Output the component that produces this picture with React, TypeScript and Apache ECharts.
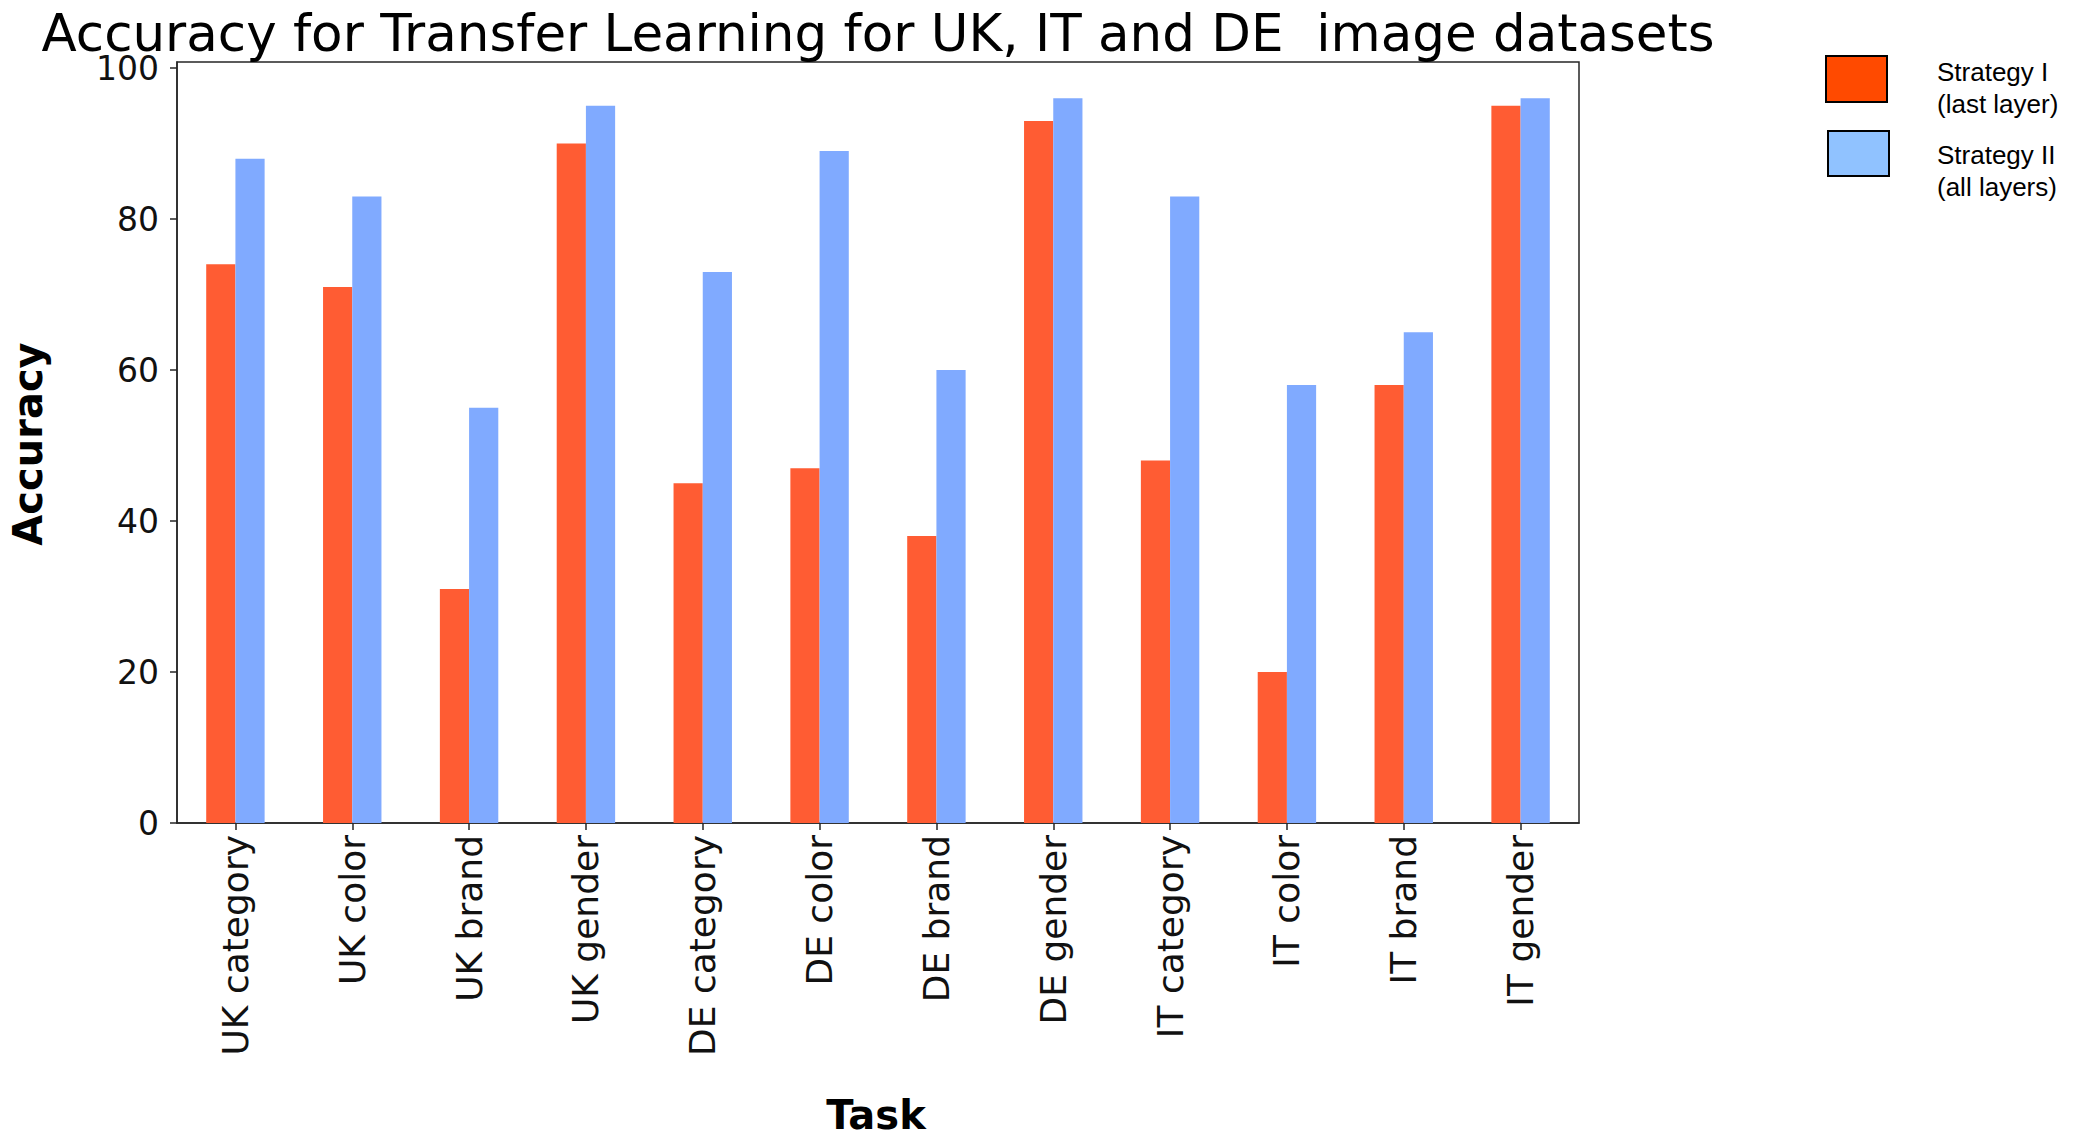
import React, { useEffect, useRef } from "react";
import * as echarts from "echarts";

const categories = [
  "UK category", "UK color", "UK brand", "UK gender",
  "DE category", "DE color", "DE brand", "DE gender",
  "IT category", "IT color", "IT brand", "IT gender",
];
const strategyI = [74, 71, 31, 90, 45, 47, 38, 93, 48, 20, 58, 95];
const strategyII = [88, 83, 55, 95, 73, 89, 60, 96, 83, 58, 65, 96];
const yTicks = [0, 20, 40, 60, 80, 100];
const seriesNames = ["Strategy I\n(last layer)", "Strategy II\n(all layers)"];

const W = 2083;
const H = 1136;

export default function App() {
  const ref = useRef<HTMLDivElement>(null);
  useEffect(() => {
    if (!ref.current) return;
    const chart = echarts.init(ref.current, null, { renderer: "svg" });
    const font = "DejaVu Sans";
    const gridLeft = 177;
    const gridRight = 1579;
    const center = (gridLeft + gridRight) / 2;
    chart.setOption({
      animation: false,
      backgroundColor: "#ffffff",
      grid: {
        left: gridLeft,
        right: W - gridRight,
        top: 62,
        bottom: H - 823,
        containLabel: false,
        outerBoundsMode: "none",
        show: true,
        borderColor: "#262626",
        borderWidth: 1.5,
        backgroundColor: "transparent",
      },
      xAxis: {
        type: "category",
        data: categories,
        boundaryGap: true,
        axisLine: { show: true, lineStyle: { color: "#262626", width: 1.5 } },
        axisTick: { show: true, alignWithLabel: true, length: 7, lineStyle: { color: "#262626", width: 1.5 } },
        axisLabel: {
          rotate: 90,
          interval: 0,
          margin: 12,
          fontFamily: font,
          fontSize: 36,
          color: "#111",
        },
        splitLine: { show: false },
      },
      yAxis: {
        type: "value",
        min: 0,
        max: 100.8,
        interval: 20,
        axisLine: { show: true, lineStyle: { color: "#262626", width: 1.5 } },
        axisTick: { show: true, length: 7, customValues: yTicks, lineStyle: { color: "#262626", width: 1.5 } },
        axisLabel: {
          customValues: yTicks,
          margin: 18,
          fontFamily: font,
          fontSize: 33,
          color: "#111",
          formatter: (v: number) => (v % 20 === 0 ? String(v) : ""),
        },
        splitLine: { show: false },
      },
      series: [
        {
          name: seriesNames[0],
          type: "bar",
          data: strategyI,
          barWidth: "25%",
          barGap: "0%",
          itemStyle: { color: "#FF5C33" },
        },
        {
          name: seriesNames[1],
          type: "bar",
          data: strategyII,
          barWidth: "25%",
          barGap: "0%",
          itemStyle: { color: "#80AAFF" },
        },
      ],
      graphic: [
        {
          type: "text",
          x: center,
          y: 33,
          style: {
            text: "Accuracy for Transfer Learning for UK, IT and DE  image datasets",
            font: `51.5px "${font}"`,
            fill: "#000",
            textAlign: "center",
            textVerticalAlign: "middle",
          },
        },
        {
          type: "text",
          x: 28,
          y: 444,
          rotation: Math.PI / 2,
          style: {
            text: "Accuracy",
            font: `bold 40px "${font}"`,
            fill: "#000",
            textAlign: "center",
            textVerticalAlign: "middle",
          },
        },
        {
          type: "text",
          x: 876,
          y: 1115,
          style: {
            text: "Task",
            font: `bold 40px "${font}"`,
            fill: "#000",
            textAlign: "center",
            textVerticalAlign: "middle",
          },
        },
        {
          type: "rect",
          shape: { x: 1826, y: 56, width: 61, height: 46 },
          style: { fill: "#FF4A00", stroke: "#000", lineWidth: 2 },
        },
        {
          type: "rect",
          shape: { x: 1828, y: 131, width: 61, height: 45 },
          style: { fill: "#90C2FF", stroke: "#000", lineWidth: 2 },
        },
        {
          type: "text",
          x: 1937,
          y: 56,
          style: {
            text: seriesNames[0],
            font: `26px "Liberation Sans"`,
            lineHeight: 32,
            fill: "#000",
            textAlign: "left",
            textVerticalAlign: "top",
          },
        },
        {
          type: "text",
          x: 1937,
          y: 139,
          style: {
            text: seriesNames[1],
            font: `26px "Liberation Sans"`,
            lineHeight: 32,
            fill: "#000",
            textAlign: "left",
            textVerticalAlign: "top",
          },
        },
      ],
    });
    return () => chart.dispose();
  }, []);
  return (
    <div
      ref={ref}
      style={{ position: "absolute", left: 0, top: 0, width: W, height: H }}
    />
  );
}
